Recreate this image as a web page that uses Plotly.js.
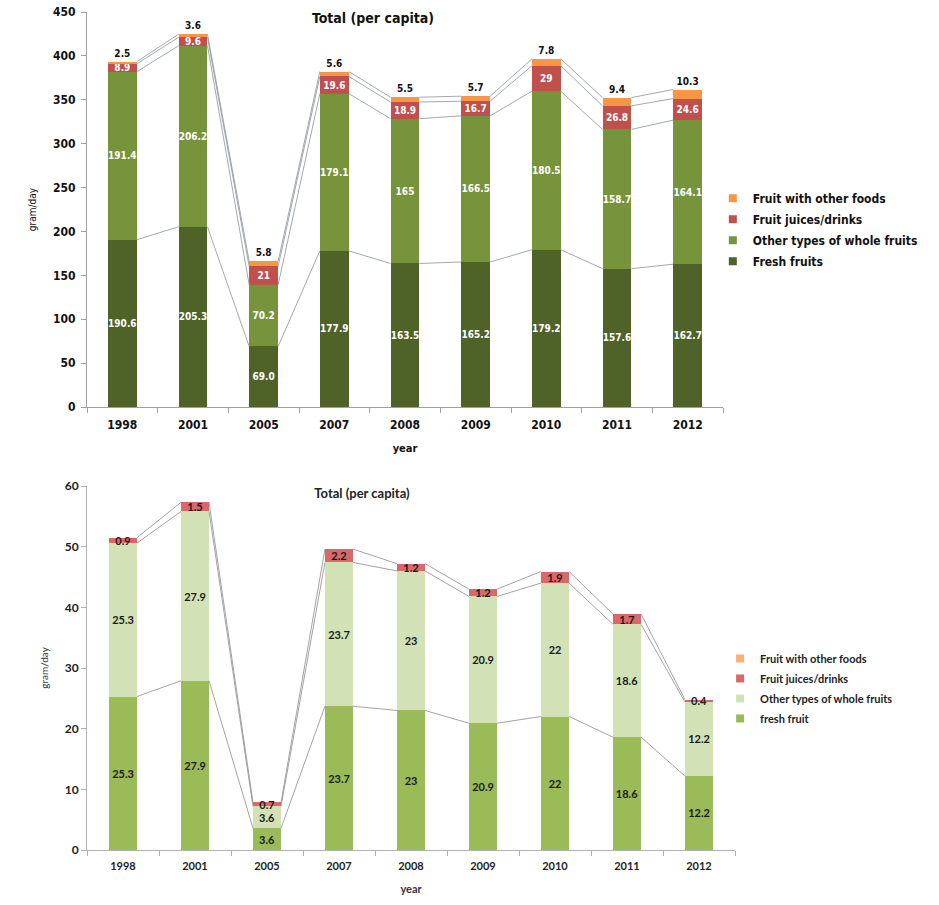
<!DOCTYPE html>
<html>
<head>
<meta charset="utf-8">
<script src="https://cdn.plot.ly/plotly-3.0.1.min.js"></script>
<style>
  html, body { margin: 0; padding: 0; background: #fff; }
  #c1 { position: absolute; left: 0; top: 0; width: 939px; height: 460px; }
  #c2 { position: absolute; left: 0; top: 460px; width: 939px; height: 445px; }
</style>
</head>
<body>
<div id="c1"></div>
<div id="c2"></div>
<script>
// ---------- data ----------
const years = ["1998", "2001", "2005", "2007", "2008", "2009", "2010", "2011", "2012"];

// Chart 1
const topFresh  = [190.6, 205.3, 69.0, 177.9, 163.5, 165.2, 179.2, 157.6, 162.7];
const topOther  = [191.4, 206.2, 70.2, 179.1, 165, 166.5, 180.5, 158.7, 164.1];
const topJuice  = [8.9, 9.6, 21, 19.6, 18.9, 16.7, 29, 26.8, 24.6];
const topFoods  = [2.5, 3.6, 5.8, 5.6, 5.5, 5.7, 7.8, 9.4, 10.3];
const topFreshLabels = ["190.6", "205.3", "69.0", "177.9", "163.5", "165.2", "179.2", "157.6", "162.7"];
const topNames = ["Fresh fruits", "Other types of whole fruits", "Fruit juices/drinks", "Fruit with other foods"];

// Chart 2
const botFresh = [25.3, 27.9, 3.6, 23.7, 23, 20.9, 22, 18.6, 12.2];
const botOther = [25.3, 27.9, 3.6, 23.7, 23, 20.9, 22, 18.6, 12.2];
const botJuice = [0.9, 1.5, 0.7, 2.2, 1.2, 1.2, 1.9, 1.7, 0.4];
const botFoods = [0, 0, 0, 0, 0, 0, 0, 0, 0];
const botNames = ["fresh fruit", "Other types of whole fruits", "Fruit juices/drinks", "Fruit with other foods"];

// ---------- helpers ----------
const idx = years.map((_, i) => i);

function cumulative(series) {
  const out = [];
  let acc = idx.map(() => 0);
  series.forEach(s => {
    acc = acc.map((a, i) => a + s[i]);
    out.push(acc.slice());
  });
  return out;
}

function connectors(series, barWidth, color) {
  const cums = cumulative(series);
  const xs = [], ys = [];
  cums.forEach(c => {
    for (let i = 0; i < idx.length - 1; i++) {
      xs.push(idx[i] + barWidth / 2, idx[i + 1] - barWidth / 2, null);
      ys.push(c[i], c[i + 1], null);
    }
  });
  return {
    type: 'scatter', mode: 'lines', x: xs, y: ys,
    line: { color: color, width: 0.8 }, hoverinfo: 'skip', showlegend: false,
    cliponaxis: false
  };
}

function legendDummy(name, color) {
  return {
    type: 'scatter', mode: 'markers', x: [null], y: [null], name: name,
    legendgroup: name,
    marker: { symbol: 'square', size: 8, color: color }
  };
}

// ---------- Chart 1 ----------
(function () {
  const font = "'DejaVu Sans Condensed', 'DejaVu Sans', sans-serif";
  const colors = ['#4f6228', '#77933c', '#c0504d', '#f79646'];
  const bw = 0.41;
  const series = [topFresh, topOther, topJuice, topFoods];
  const texts = [topFreshLabels, topOther.map(String), topJuice.map(String), topFoods.map(String)];
  const traces = [];
  series.forEach((s, k) => {
    traces.push({
      type: 'bar', x: idx, y: s, width: bw, name: topNames[k],
      marker: { color: colors[k], line: { width: 0 } },
      text: texts[k], textposition: k === 3 ? 'outside' : 'inside',
      textangle: 0, insidetextanchor: 'middle',
      insidetextfont: { family: font, size: 10, color: '#ffffff', weight: 'bold' },
      outsidetextfont: { family: font, size: 10, color: '#111111', weight: 'bold' },
      cliponaxis: false, showlegend: false, hoverinfo: 'skip'
    });
  });
  traces.push(connectors(series, bw, '#8a929c'));
  for (let k = 3; k >= 0; k--) traces.push(legendDummy(topNames[k], colors[k]));

  const layout = {
    width: 939, height: 460,
    margin: { l: 87, r: 216, t: 12, b: 53 },
    barmode: 'stack',
    paper_bgcolor: '#fff', plot_bgcolor: '#fff',
    font: { family: font, color: '#111' },
    uniformtext: { mode: 'show', minsize: 10 },
    title: {
      text: '<b>Total (per capita)</b>', font: { family: font, size: 14, color: '#111' },
      x: 373 / 939, xanchor: 'center', xref: 'container',
      y: 1 - 18 / 460, yanchor: 'middle', yref: 'container'
    },
    xaxis: {
      range: [-0.5, 8.5], tickvals: idx, ticktext: years.map(y => '<b>' + y + '</b>'),
      showline: true, linecolor: '#a0a0a0', linewidth: 1,
      ticks: '', showgrid: false, zeroline: false, ticklabelstandoff: 7,
      tickfont: { family: font, size: 12, color: '#111' },
      title: { text: '<b>year</b>', font: { family: font, size: 11, color: '#111' }, standoff: 12 },
      fixedrange: true
    },
    xaxis2: {
      overlaying: 'x', range: [-0.5, 8.5], tickvals: idx.map(i => i + 0.5).concat([-0.5]),
      ticks: 'outside', ticklen: 5, tickcolor: '#a0a0a0', showticklabels: false,
      showgrid: false, zeroline: false, showline: false
    },
    yaxis: {
      range: [0, 450], dtick: 50, showline: true, linecolor: '#a0a0a0', linewidth: 1,
      ticks: 'outside', ticklen: 5, tickcolor: '#a0a0a0', showgrid: false, zeroline: false,
      ticklabelstandoff: 3,
      tickfont: { family: font, size: 12, color: '#111', weight: 'bold' },
      title: { text: 'gram/day', font: { family: font, size: 10, color: '#111' }, standoff: 14 },
      fixedrange: true
    },
    legend: {
      x: 0.984, xanchor: 'left', y: 0.565, yanchor: 'top',
      traceorder: 'grouped', itemwidth: 30, tracegroupgap: 2,
      font: { family: font, size: 12, color: '#111', weight: 'bold' },
      bgcolor: 'rgba(0,0,0,0)'
    },
    showlegend: true
  };
  traces.push({ type: 'scatter', x: [null], y: [null], xaxis: 'x2', showlegend: false, hoverinfo: 'skip' });
  Plotly.newPlot('c1', traces, layout, { displayModeBar: false, staticPlot: true });
})();

// ---------- Chart 2 ----------
(function () {
  const font = "Lato, 'Open Sans', sans-serif";
  const colors = ['#9bbb59', '#d3e2b6', '#d9676b', '#f9b07a'];
  const bw = 0.39;
  const series = [botFresh, botOther, botJuice, botFoods];
  const texts = [botFresh.map(String), botOther.map(String), botJuice.map(String), botFoods.map(() => '')];
  const traces = [];
  series.forEach((s, k) => {
    traces.push({
      type: 'bar', x: idx, y: s, width: bw, name: botNames[k],
      marker: { color: colors[k], line: { width: 0 } },
      text: texts[k], textposition: 'inside',
      textangle: 0, insidetextanchor: 'middle',
      insidetextfont: { family: font, size: 11, color: '#1a1a1a', weight: 'bold' },
      cliponaxis: false, showlegend: false, hoverinfo: 'skip'
    });
  });
  traces.push(connectors(series.slice(0, 3), bw, '#8c8c8c'));
  for (let k = 3; k >= 0; k--) traces.push(legendDummy(botNames[k], colors[k]));

  const layout = {
    width: 939, height: 445,
    margin: { l: 87, r: 204, t: 26, b: 55 },
    barmode: 'stack',
    paper_bgcolor: '#fff', plot_bgcolor: '#fff',
    font: { family: font, color: '#111' },
    uniformtext: { mode: 'show', minsize: 11 },
    title: {
      text: '<b>Total (per capita)</b>', font: { family: font, size: 13, color: '#222' },
      x: 362 / 939, xanchor: 'center', xref: 'container',
      y: 1 - 33 / 445, yanchor: 'middle', yref: 'container'
    },
    xaxis: {
      range: [-0.5, 8.5], tickvals: idx, ticktext: years.map(y => '<b>' + y + '</b>'),
      showline: true, linecolor: '#b0b0b0', linewidth: 1,
      ticks: '', showgrid: false, zeroline: false, ticklabelstandoff: 6,
      tickfont: { family: font, size: 11, color: '#222' },
      title: { text: '<b>year</b>', font: { family: font, size: 11, color: '#333' }, standoff: 14 },
      fixedrange: true
    },
    xaxis2: {
      overlaying: 'x', range: [-0.5, 8.5], tickvals: idx.map(i => i + 0.5).concat([-0.5]),
      ticks: 'outside', ticklen: 5, tickcolor: '#b0b0b0', showticklabels: false,
      showgrid: false, zeroline: false, showline: false
    },
    yaxis: {
      range: [0, 60], dtick: 10, showline: true, linecolor: '#b0b0b0', linewidth: 1,
      ticks: 'outside', ticklen: 5, tickcolor: '#b0b0b0', showgrid: false, zeroline: false,
      tickfont: { family: font, size: 12, color: '#222', weight: 'bold' },
      title: { text: 'gram/day', font: { family: font, size: 10, color: '#333' }, standoff: 14 },
      fixedrange: true
    },
    legend: {
      x: 0.977, xanchor: 'left', y: 0.566, yanchor: 'top',
      traceorder: 'grouped', itemwidth: 30, tracegroupgap: 1,
      font: { family: font, size: 11, color: '#222', weight: 'bold' },
      bgcolor: 'rgba(0,0,0,0)'
    },
    showlegend: true
  };
  traces.push({ type: 'scatter', x: [null], y: [null], xaxis: 'x2', showlegend: false, hoverinfo: 'skip' });
  Plotly.newPlot('c2', traces, layout, { displayModeBar: false, staticPlot: true });
})();
</script>
</body>
</html>
